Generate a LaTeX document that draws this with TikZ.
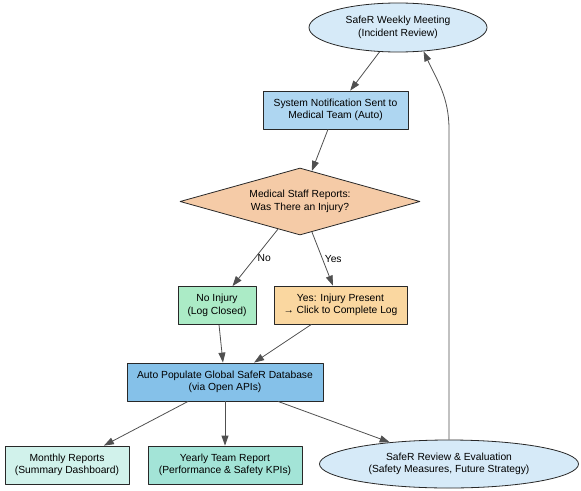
\documentclass[tikz,border=0pt]{standalone}
\usepackage{fontspec}
\setmainfont{Liberation Sans}
\usepackage{tikz}
\usetikzlibrary{arrows.meta,shapes.geometric}
\usepackage{xcolor}
\definecolor{meetblue}{RGB}{214,234,248}
\definecolor{notifblue}{RGB}{174,214,241}
\definecolor{peach}{RGB}{245,203,167}
\definecolor{mint}{RGB}{171,235,198}
\definecolor{apricot}{RGB}{250,215,160}
\definecolor{dbblue}{RGB}{133,193,233}
\definecolor{paleteal}{RGB}{209,242,235}
\definecolor{seafoam}{RGB}{163,228,215}
\definecolor{edgegray}{RGB}{80,80,80}
\definecolor{rim}{RGB}{40,40,40}

\begin{document}
\begin{tikzpicture}[x=1pt,y=-1pt,line join=round,font=\fontsize{10.3}{12.6}\selectfont,
    box/.style={draw=rim,line width=0.8pt,rectangle,align=center,minimum height=38pt,inner sep=0pt},
    oval/.style={draw=rim,line width=0.8pt,ellipse,align=center,inner sep=0pt},
    flow/.style={draw=edgegray,line width=0.8pt,-{Triangle[length=10pt,width=7pt]}},
    lbl/.style={right,inner sep=2pt}]
  \useasboundingbox (0,0) rectangle (581,490);
  \node[oval,fill=meetblue,minimum width=178pt,minimum height=49pt] (meet) at (398,27.5)
    {SafeR Weekly Meeting\\(Incident Review)};
  \node[box,fill=notifblue,minimum width=145pt] (notif) at (335.5,110)
    {System Notification Sent to\\Medical Team (Auto)};
  \node[draw=rim,line width=0.8pt,diamond,align=center,fill=peach,shape aspect=3.58,
    minimum width=240pt,minimum height=67pt,inner sep=0pt] (ask) at (300,201.5)
    {Medical Staff Reports:\\Was There an Injury?};
  \node[box,fill=mint,minimum width=78pt] (noinj) at (217,305.5)
    {No Injury\\(Log Closed)};
  \node[box,fill=apricot,minimum width=133pt] (yesinj) at (340.5,305)
    {Yes: Injury Present\\→ Click to Complete Log};
  \node[box,fill=dbblue,minimum width=196pt] (db) at (225,382)
    {Auto Populate Global SafeR Database\\(via Open APIs)};
  \node[box,fill=paleteal,minimum width=124pt] (monthly) at (67,465)
    {Monthly Reports\\(Summary Dashboard)};
  \node[box,fill=seafoam,minimum width=154pt] (yearly) at (225,465)
    {Yearly Team Report\\(Performance \& Safety KPIs)};
  \node[oval,fill=meetblue,minimum width=259pt,minimum height=48pt] (review) at (449,464)
    {SafeR Review \& Evaluation\\(Safety Measures, Future Strategy)};

  \draw[flow] (meet) -- (notif);
  \draw[flow] (notif) -- (ask);
  \draw[flow] (ask) -- node[lbl,midway] {No} (noinj);
  \draw[flow] (ask) -- node[lbl,midway] {Yes} (yesinj);
  \foreach \src in {noinj,yesinj} \draw[flow] (\src) -- (db);
  \foreach \dst in {monthly,yearly,review} \draw[flow] (db) -- (\dst);
  % loop back to the weekly meeting
  \draw[flow] (review.north) -- (review.north |- notif.south) to[out=90,in=-65] (meet.-43);
\end{tikzpicture}
\end{document}
